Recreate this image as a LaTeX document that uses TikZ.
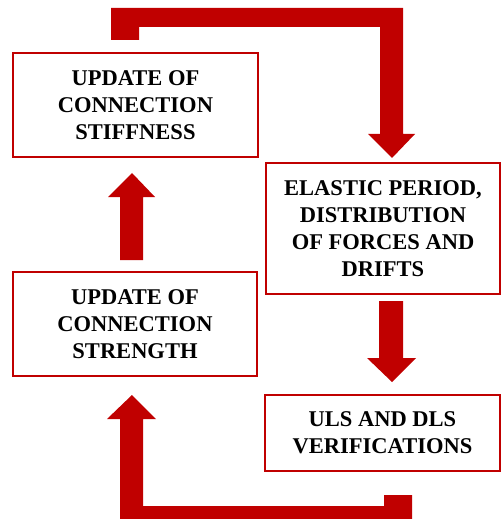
\documentclass[tikz,border=0pt]{standalone}
\usepackage{fontspec}
\setmainfont{Liberation Serif}
\definecolor{dred}{HTML}{C00000}
\begin{document}
\begin{tikzpicture}[x=1bp,y=-1bp,
  box/.style={draw=dred,line width=2bp,fill=white,align=center,inner sep=0pt,
    font=\fontsize{22.5bp}{27bp}\selectfont\bfseries},
  fatarrow/.style={fill=dred,draw=none}]
\useasboundingbox (0,0) rectangle (501,519);
\node[box,minimum width=245bp,minimum height=104bp] (b1) at (135.5,105) {UPDATE OF\\CONNECTION\\STIFFNESS};
\node[box,minimum width=234bp,minimum height=131bp] (b2) at (383,228.5) {ELASTIC PERIOD,\\DISTRIBUTION\\OF FORCES AND\\DRIFTS};
\node[box,minimum width=235bp,minimum height=76bp] (b3) at (382.5,433) {ULS AND DLS\\VERIFICATIONS};
\node[box,minimum width=244bp,minimum height=104bp] (b4) at (135,324) {UPDATE OF\\CONNECTION\\STRENGTH};
% top bent arrow: b1 -> b2
\fill[fatarrow] (111,8) -- (403,8) -- (403,134) -- (415,134) -- (392,158) -- (368,134) -- (380,134)
  -- (380,27) -- (139,27) -- (139,40) -- (111,40) -- cycle;
% b2 -> b3
\fill[fatarrow] (379,301) -- (403,301) -- (403,358) -- (416,358) -- (392,382) -- (367,358) -- (379,358) -- cycle;
% b4 -> b1
\fill[fatarrow] (120,260) -- (143,260) -- (143,197) -- (155,197) -- (132,173) -- (108,197) -- (120,197) -- cycle;
% bottom bent arrow: b3 -> b4
\fill[fatarrow] (132,395) -- (156,419) -- (143,419) -- (143,506) -- (384,506) -- (384,495) -- (412,495)
  -- (412,519) -- (120,519) -- (120,419) -- (107,419) -- cycle;
\end{tikzpicture}
\end{document}
